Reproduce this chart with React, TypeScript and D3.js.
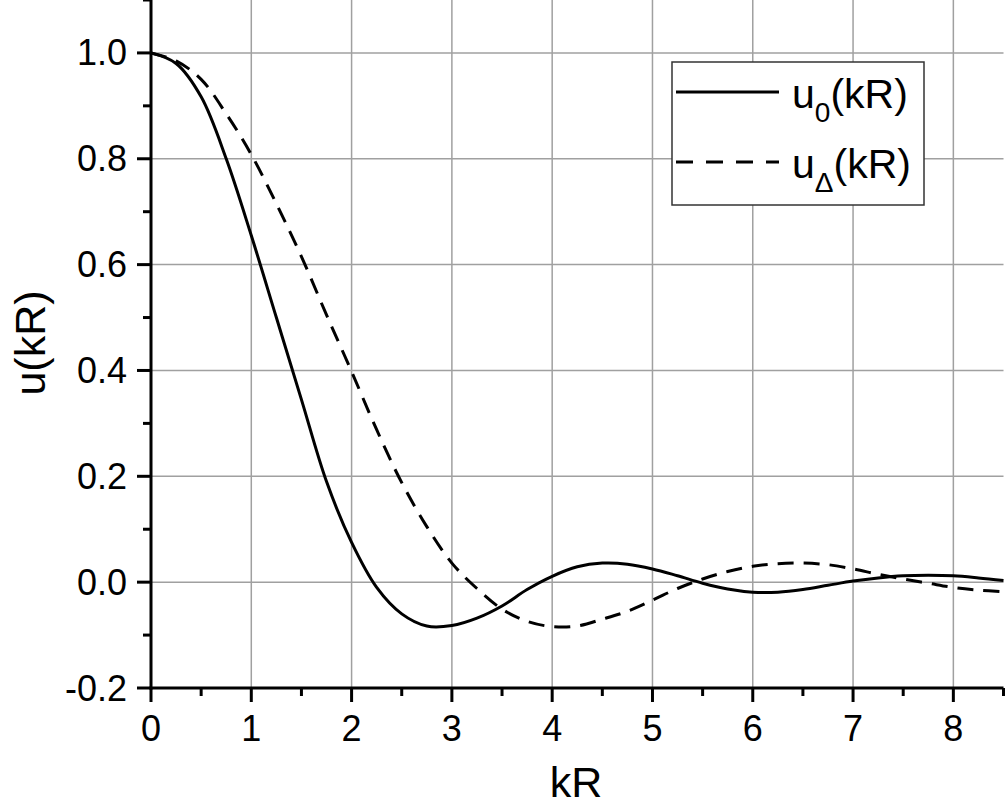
import React from "react";
import * as d3 from "d3";

const u0X = [0, 0.25, 0.5, 0.75, 1.0, 1.25, 1.5, 1.75, 2.0, 2.25, 2.5, 2.75, 3.0, 3.25, 3.5, 3.75, 4.0, 4.25, 4.5, 4.75, 5.0, 5.25, 5.5, 5.75, 6.0, 6.25, 6.5, 6.75, 7.0, 7.25, 7.5, 7.75, 8.0, 8.25, 8.5];
const u0Y = [1.0, 0.98, 0.917, 0.80, 0.655, 0.50, 0.345, 0.19, 0.075, -0.01, -0.06, -0.083, -0.082, -0.068, -0.045, -0.014, 0.011, 0.029, 0.036, 0.034, 0.025, 0.012, -0.002, -0.013, -0.019, -0.019, -0.014, -0.006, 0.002, 0.008, 0.012, 0.013, 0.012, 0.008, 0.003];

const uDX = [0, 0.25, 0.5, 0.75, 1.0, 1.25, 1.5, 1.75, 2.0, 2.25, 2.5, 2.75, 3.0, 3.25, 3.5, 3.75, 4.0, 4.25, 4.5, 4.75, 5.0, 5.25, 5.5, 5.75, 6.0, 6.25, 6.5, 6.75, 7.0, 7.25, 7.5, 7.75, 8.0, 8.25, 8.5];
const uDY = [1.0, 0.985, 0.95, 0.885, 0.808, 0.715, 0.615, 0.505, 0.398, 0.288, 0.188, 0.105, 0.036, -0.012, -0.051, -0.074, -0.084, -0.083, -0.07, -0.055, -0.034, -0.012, 0.006, 0.02, 0.03, 0.035, 0.036, 0.033, 0.025, 0.015, 0.006, -0.002, -0.01, -0.015, -0.018];

const xTicks = [0, 1, 2, 3, 4, 5, 6, 7, 8];
const xMinor = [0.5, 1.5, 2.5, 3.5, 4.5, 5.5, 6.5, 7.5, 8.5];
const yTicks = [-0.2, 0.0, 0.2, 0.4, 0.6, 0.8, 1.0];
const yMinor = [-0.1, 0.1, 0.3, 0.5, 0.7, 0.9, 1.1];

const FONT = "'Liberation Sans', Arial, sans-serif";

export default function App() {
  const x = d3.scaleLinear().domain([0, 8.5]).range([151, 1003.5]);
  const y = d3.scaleLinear().domain([-0.2, 1.1]).range([688, 0]);
  const line = d3
    .line<[number, number]>()
    .x((d) => x(d[0]))
    .y((d) => y(d[1]))
    .curve(d3.curveCatmullRom.alpha(0.5));
  const p0 = line(u0X.map((v, i) => [v, u0Y[i]] as [number, number])) || "";
  const pD = line(uDX.map((v, i) => [v, uDY[i]] as [number, number])) || "";
  const grid = "#a0a0a0";

  return (
    <svg
      width={1008}
      height={807}
      style={{ position: "absolute", left: 0, top: 0, background: "#fff" }}
      fontFamily={FONT}
    >
      {/* grid */}
      {xTicks.filter((t) => t > 0).map((t) => (
        <line key={"gx" + t} x1={x(t)} x2={x(t)} y1={y(1.1)} y2={y(-0.2)} stroke={grid} strokeWidth={1.5} />
      ))}
      {yTicks.filter((t) => t > -0.2).map((t) => (
        <line key={"gy" + t} x1={x(0)} x2={x(8.5)} y1={y(t)} y2={y(t)} stroke={grid} strokeWidth={1.5} />
      ))}

      {/* curves */}
      <path d={p0} fill="none" stroke="#000" strokeWidth={3} />
      <path d={pD} fill="none" stroke="#000" strokeWidth={3} strokeDasharray="16,10" />

      {/* axes */}
      <line x1={x(0)} x2={x(0)} y1={y(1.1) - 1} y2={y(-0.2) + 1.5} stroke="#000" strokeWidth={3} />
      <line x1={x(0) - 1.5} x2={x(8.5)} y1={y(-0.2)} y2={y(-0.2)} stroke="#000" strokeWidth={3} />
      {yTicks.map((t) => (
        <line key={"ty" + t} x1={x(0) - 14} x2={x(0)} y1={y(t)} y2={y(t)} stroke="#000" strokeWidth={3} />
      ))}
      {yMinor.map((t) => (
        <line key={"my" + t} x1={x(0) - 8} x2={x(0)} y1={y(t)} y2={y(t)} stroke="#000" strokeWidth={3} />
      ))}
      {xTicks.map((t) => (
        <line key={"tx" + t} x1={x(t)} x2={x(t)} y1={y(-0.2)} y2={y(-0.2) + 14} stroke="#000" strokeWidth={3} />
      ))}
      {xMinor.map((t) => (
        <line key={"mx" + t} x1={x(t)} x2={x(t)} y1={y(-0.2)} y2={y(-0.2) + 8} stroke="#000" strokeWidth={3} />
      ))}

      {/* tick labels */}
      {yTicks.map((t) => (
        <text key={"ly" + t} x={127} y={y(t) + 12.5} fontSize={36} textAnchor="end" fill="#000">
          {t.toFixed(1)}
        </text>
      ))}
      {xTicks.map((t) => (
        <text key={"lx" + t} x={x(t)} y={741} fontSize={36} textAnchor="middle" fill="#000">
          {t}
        </text>
      ))}

      {/* axis titles */}
      <text x={576} y={797} fontSize={43} textAnchor="middle" fill="#000">kR</text>
      <text transform="translate(45,343) rotate(-90)" fontSize={43} textAnchor="middle" fill="#000">u(kR)</text>

      {/* legend */}
      <rect x={672} y={62} width={252} height={143} fill="#fff" stroke="#333" strokeWidth={1.5} />
      <line x1={676} x2={779} y1={92} y2={92} stroke="#000" strokeWidth={3} />
      <line x1={676} x2={779} y1={162} y2={162} stroke="#000" strokeWidth={3} strokeDasharray="17,13" />
      <text x={792} y={108} fontSize={41} fill="#000">
        u<tspan fontSize={28} dy={14}>0</tspan><tspan dy={-14}>(kR)</tspan>
      </text>
      <text x={792} y={178} fontSize={41} fill="#000">
        u<tspan fontSize={28} dy={14}>Δ</tspan><tspan dy={-14}>(kR)</tspan>
      </text>
    </svg>
  );
}
